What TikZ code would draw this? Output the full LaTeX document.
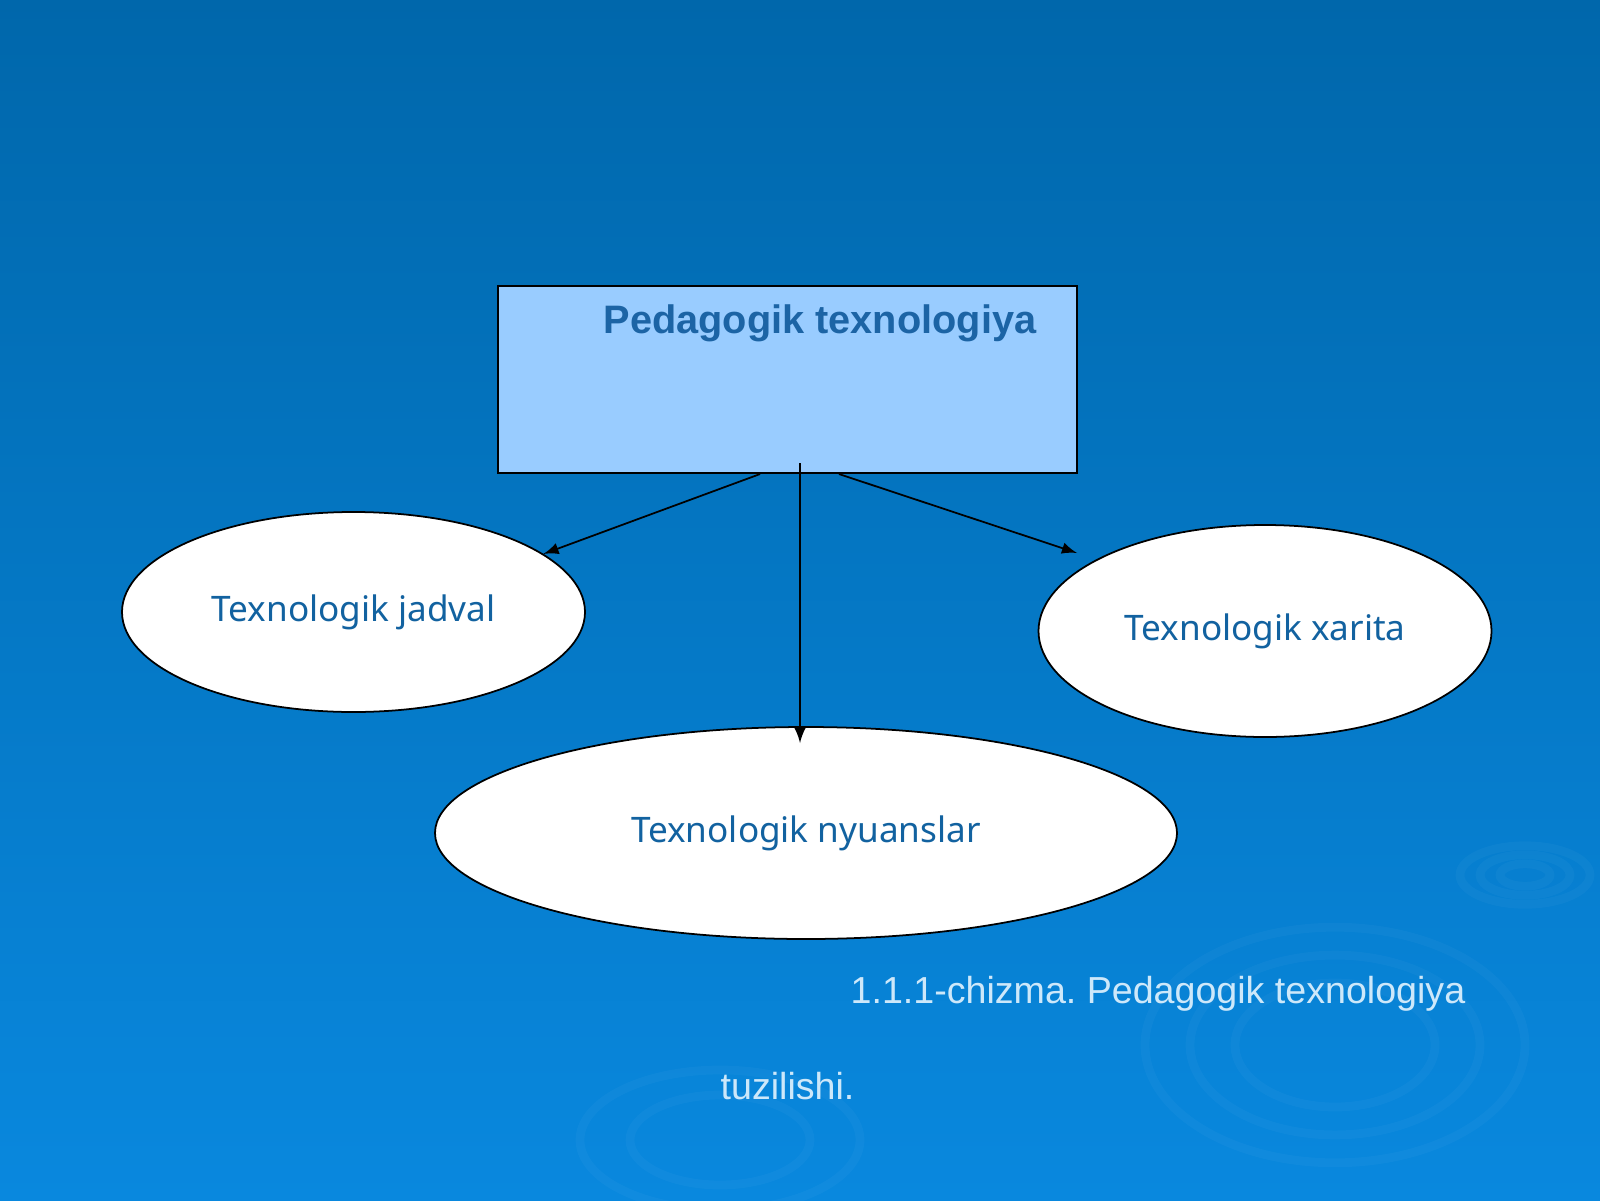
\documentclass[tikz,border=0pt]{standalone}
\usepackage{fontspec}
\setmainfont{Liberation Sans}
\newfontfamily\notofont{Noto Sans}
\usepackage{tikz}
\usetikzlibrary{shapes.geometric, arrows}
\usepackage{xcolor}
\definecolor{bgtop}{RGB}{0,103,171}
\definecolor{bgmid}{RGB}{0,113,190}
\definecolor{bgbot}{RGB}{9,136,222}
\definecolor{boxblue}{RGB}{153,204,255}
\definecolor{titleblue}{RGB}{28,100,165}
\definecolor{ovaltext}{RGB}{18,98,160}
\definecolor{captext}{RGB}{205,232,250}
\frenchspacing

\begin{document}
\begin{tikzpicture}[
    oval/.style = {ellipse, draw=black, fill=white, line width=0.5pt, inner sep=0pt,
                   font=\notofont\fontsize{10}{12}\selectfont, text=ovaltext},
    link/.style = {-latex, line width=0.5pt, black},
    ripple/.style = {white, opacity=.03, line width=2.5pt}
]
    % Background
    \shade[top color=bgtop, middle color=bgmid, bottom color=bgbot] (0,0) rectangle (16,12);
    \useasboundingbox (0,0) rectangle (16,12);
    % Ripples
    \foreach \r in {1.0,1.45,1.9}
    {
        \draw[ripple] (13.35,1.55) ellipse ({\r} and {0.62*\r});
    }
    \foreach \r in {0.25,0.45,0.65}
    {
        \draw[ripple] (15.25,3.25) ellipse ({\r} and {0.45*\r});
    }
    \foreach \r in {0.9,1.4}
    {
        \draw[ripple] (7.2,0.6) ellipse ({\r} and {0.5*\r});
    }
    % Top box
    \node[draw=black, fill=boxblue, line width=0.6pt, minimum width=5.79cm, minimum height=1.87cm] (tech) at (7.875,8.205) {};
    \node[font=\bfseries\fontsize{11.3}{13}\selectfont, text=titleblue] (techtitle) at (8.20,8.77) {Pedagogik texnologiya};
    % Ovals
    \node[oval, minimum width=4.63cm, minimum height=2.0cm] (jadval) at (3.535,5.88) {Texnologik jadval};
    \node[oval, minimum width=4.53cm, minimum height=2.12cm] (xarita) at (12.65,5.69) {Texnologik xarita};
    \node[oval, minimum width=7.42cm, minimum height=2.12cm] (nyuans) at (8.06,3.67) {Texnologik nyuanslar};
    % Arrows
    \coordinate (xaritaend) at (10.77,6.47);
    \coordinate (nyuansend) at (8.0,4.57);
    \draw[link] ([xshift=-2.75mm]tech.south) -- (jadval.17);
    \draw[link] ([xshift=1.25mm,yshift=1.1mm]tech.south) -- (nyuansend);
    \draw[link] ([xshift=5.15mm]tech.south) -- (xaritaend);
    % Caption
    \node[text=captext, font=\fontsize{10.7}{13}\selectfont] (caption) at (11.58,2.06) {1.1.1-chizma. Pedagogik texnologiya};
    \node[text=captext, font=\fontsize{10.7}{13}\selectfont] (captail) at (7.875,1.14) {tuzilishi.};
\end{tikzpicture}
\end{document}
